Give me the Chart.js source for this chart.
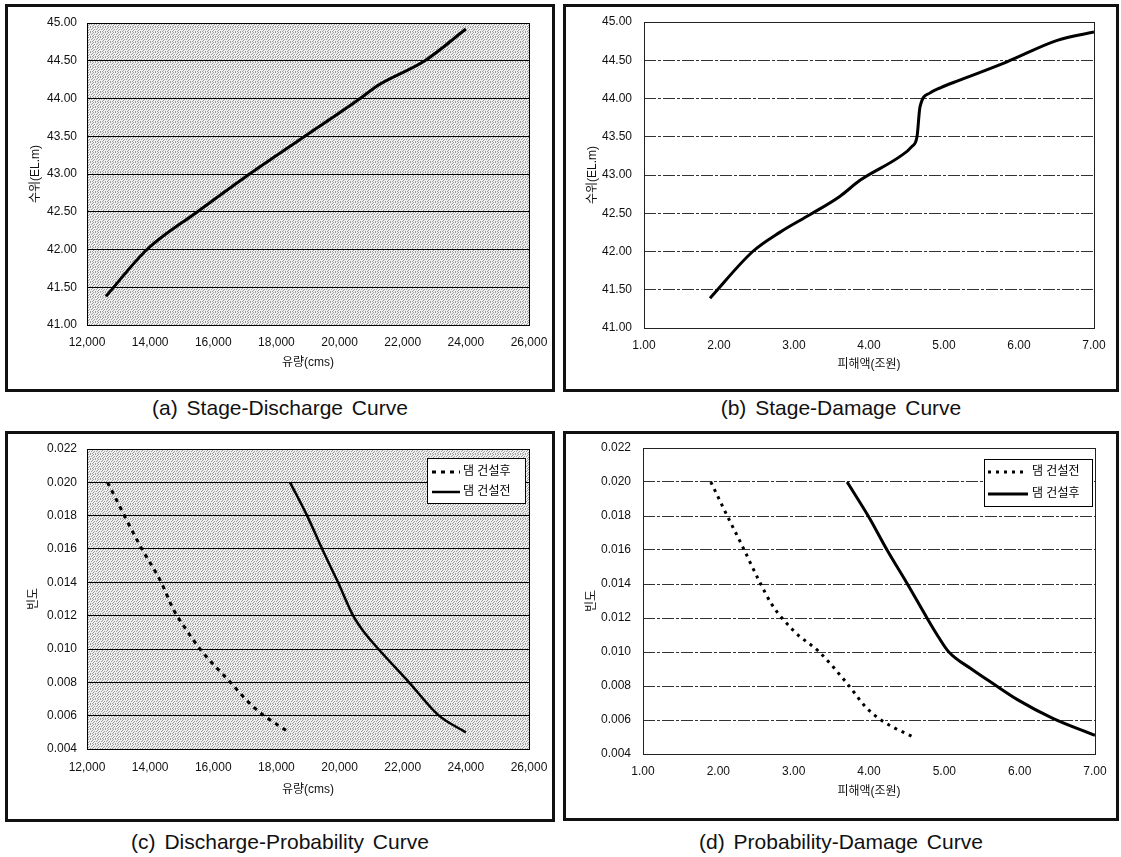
<!DOCTYPE html>
<html lang="ko">
<head>
<meta charset="UTF-8">
<title>Stage-Discharge / Damage Curves</title>
<script src="https://cdn.jsdelivr.net/npm/chart.js"></script>
<style>
    body {
        margin: 0;
        width: 1121px;
        height: 857px;
        position: relative;
        overflow: hidden;
        background: #fff;
        font-family: 'Liberation Sans', 'Noto Sans CJK KR', sans-serif;
    }
    .panel {
        position: absolute;
        border: 3px solid #111;
        box-sizing: border-box;
    }
    canvas {
        position: absolute;
    }
    .caption {
        position: absolute;
        font-size: 21px;
        line-height: 24px;
        text-align: center;
        color: #111;
        word-spacing: 3px;
    }
</style>
</head>
<body>
<div class="panel" style="left:5px;top:4px;width:550px;height:388px"></div>
<div class="panel" style="left:563px;top:4px;width:556px;height:388px"></div>
<div class="panel" style="left:5px;top:431px;width:550px;height:391px"></div>
<div class="panel" style="left:563px;top:431px;width:556px;height:390px"></div>

<canvas id="chartA"></canvas>
<canvas id="chartB"></canvas>
<canvas id="chartC"></canvas>
<canvas id="chartD"></canvas>

<div class="caption" style="left:5px;top:396px;width:550px">(a) Stage-Discharge Curve</div>
<div class="caption" style="left:563px;top:396px;width:556px">(b) Stage-Damage Curve</div>
<div class="caption" style="left:5px;top:830px;width:550px">(c) Discharge-Probability Curve</div>
<div class="caption" style="left:563px;top:830px;width:556px">(d) Probability-Damage Curve</div>

<script>
// ---- data ----
// (a) stage vs discharge
const dischargeA = [12600, 13900, 15500, 17150, 18900, 20650, 21200, 22700, 24000];
const stageA     = [41.38, 42.00, 42.50, 43.00, 43.50, 44.00, 44.17, 44.50, 44.92];

// (b) stage vs damage (조원)
const damageB = [1.88, 2.45, 2.81, 3.21, 3.61, 3.88, 4.41, 4.57, 4.64, 4.68, 4.81, 4.95, 5.21, 5.84, 6.51, 7.00];
const stageB  = [41.39, 42.00, 42.25, 42.48, 42.72, 42.93, 43.24, 43.37, 43.50, 43.89, 44.07, 44.14, 44.24, 44.48, 44.76, 44.87];

// (c) discharge vs probability
const dischargeAfterC = [12650, 13680, 14350, 14730, 15200, 15580, 16540, 17230, 17610, 18400];
const probAfterC      = [0.0200, 0.0162, 0.0140, 0.0124, 0.0110, 0.0100, 0.0080, 0.0066, 0.0060, 0.0050];
const dischargeBeforeC = [18430, 18970, 19450, 19950, 20430, 20780, 21230, 22200, 23150, 24000];
const probBeforeC      = [0.0200, 0.0180, 0.0160, 0.0140, 0.0120, 0.0110, 0.0100, 0.0080, 0.0060, 0.0050];

// (d) damage vs probability
const damageBeforeD = [1.90, 2.13, 2.30, 2.54, 2.71, 3.01, 3.34, 3.70, 3.97, 4.16, 4.31, 4.59];
const probBeforeD   = [0.0200, 0.0179, 0.0164, 0.0142, 0.0128, 0.0112, 0.0100, 0.0082, 0.0067, 0.0060, 0.0056, 0.0050];
const damageAfterD  = [3.71, 3.99, 4.24, 4.51, 4.77, 4.92, 5.06, 5.36, 5.66, 5.97, 6.44, 7.00];
const probAfterD    = [0.0200, 0.0180, 0.0160, 0.0140, 0.0120, 0.0109, 0.0100, 0.0090, 0.0081, 0.0072, 0.0061, 0.0051];

// axis ranges / tick steps
const dischargeTicks = {min: 12000, max: 26000, step: 2000};
const damageTicks    = {min: 1, max: 7, step: 1};
const stageTicks     = {min: 41, max: 45, step: 0.5};
const probTicks      = {min: 0.004, max: 0.022, step: 0.002};

const labelAfter  = '댐 건설후';
const labelBefore = '댐 건설전';

// ---- helpers ----
const FONT = "'Liberation Sans', 'Noto Sans CJK KR', sans-serif";
Chart.defaults.font.family = FONT;
Chart.defaults.font.size = 12;
Chart.defaults.color = '#111';

const toPoints = (xs, ys) => xs.map((x, i) => ({x: x, y: ys[i]}));
const comma = v => String(Math.round(v)).replace(/\B(?=(\d{3})+(?!\d))/g, ',');

// light halftone-like fill for the shaded plots
function stipplePattern(ctx) {
    const c = document.createElement('canvas');
    c.width = c.height = 5;
    const p = c.getContext('2d');
    p.fillStyle = '#efefef';
    p.fillRect(0, 0, 5, 5);
    p.fillStyle = '#9e9e9e';
    [[0, 0], [2, 0], [4, 1], [1, 2], [3, 2], [0, 3], [2, 4], [4, 4]].forEach(d => p.fillRect(d[0], d[1], 1, 1));
    return ctx.createPattern(c, 'repeat');
}

// plot background + frame
const plotFrame = {
    id: 'plotFrame',
    beforeDraw(chart, args, o) {
        const {ctx, chartArea: a} = chart;
        ctx.save();
        ctx.fillStyle = o.stipple ? stipplePattern(ctx) : '#fff';
        ctx.fillRect(a.left, a.top, a.width, a.height);
        ctx.restore();
    },
    afterDatasetsDraw(chart, args, o) {
        const {ctx, chartArea: a} = chart;
        ctx.save();
        ctx.strokeStyle = o.color || '#000';
        ctx.lineWidth = 1;
        ctx.strokeRect(Math.round(a.left) + 0.5, Math.round(a.top) + 0.5,
                       Math.round(a.width), Math.round(a.height));
        ctx.restore();
    }
};

// boxed legend inside the plot area
const boxLegend = {
    id: 'boxLegend',
    afterDraw(chart, args, o) {
        if (!o || !o.w) return;
        const {ctx, chartArea: a} = chart;
        const x = Math.round(a.left + o.dx), y = Math.round(a.top + o.dy);
        ctx.save();
        ctx.fillStyle = '#fff';
        ctx.fillRect(x, y, o.w, o.h);
        ctx.strokeStyle = '#000';
        ctx.lineWidth = 1;
        ctx.strokeRect(x + 0.5, y + 0.5, o.w, o.h);
        ctx.font = '12px ' + FONT;
        ctx.textBaseline = 'middle';
        ctx.fillStyle = '#000';
        chart.data.datasets.forEach((ds, i) => {
            const ry = y + o.row0 + i * o.rowGap;
            ctx.beginPath();
            ctx.setLineDash(ds.borderDash || []);
            ctx.lineWidth = ds.borderWidth;
            ctx.moveTo(x + o.s0, ry);
            ctx.lineTo(x + o.s1, ry);
            ctx.stroke();
            ctx.setLineDash([]);
            ctx.fillText(ds.label, x + o.tx, ry);
        });
        ctx.restore();
    }
};

function drawChart(id, frame, area, marks, xCfg, yCfg, datasets, look) {
    const half = 7.2;   // half line height of 12px text
    const padL = marks.yTitleX - frame.left - half;
    const yW = area.left - frame.left - padL;
    const padT = area.top - frame.top;
    const padR = frame.left + frame.width - area.right;
    const xH = marks.xTitleY + half - area.bottom;
    const padB = frame.top + frame.height - area.bottom - xH;

    const canvas = document.getElementById(id);
    canvas.width = frame.width;
    canvas.height = frame.height;
    canvas.style.left = frame.left + 'px';
    canvas.style.top = frame.top + 'px';
    canvas.style.width = frame.width + 'px';
    canvas.style.height = frame.height + 'px';

    return new Chart(canvas.getContext('2d'), {
        type: 'line',
        data: {datasets: datasets},
        plugins: [plotFrame, boxLegend],
        options: {
            responsive: false,
            animation: false,
            devicePixelRatio: 1,
            layout: {padding: {left: padL, top: padT, right: padR, bottom: padB}},
            elements: {
                point: {radius: 0},
                line: {cubicInterpolationMode: 'monotone', borderCapStyle: 'butt'}
            },
            plugins: {
                legend: {display: false},
                tooltip: {enabled: false},
                plotFrame: {stipple: look.stipple, color: look.frameColor},
                boxLegend: look.legend || {}
            },
            scales: {
                x: {
                    type: 'linear',
                    min: xCfg.ticks.min,
                    max: xCfg.ticks.max,
                    ticks: {
                        stepSize: xCfg.ticks.step,
                        padding: marks.xLabelY - area.bottom - half,
                        maxRotation: 0,
                        autoSkip: false,
                        color: '#111',
                        callback: xCfg.format
                    },
                    grid: {display: false, drawTicks: false},
                    border: {display: false},
                    title: {display: true, text: xCfg.title, padding: 0, color: '#111'},
                    afterFit(s) { s.height = xH; s.paddingLeft = 0; s.paddingRight = 0; }
                },
                y: {
                    type: 'linear',
                    min: yCfg.ticks.min,
                    max: yCfg.ticks.max,
                    ticks: {
                        stepSize: yCfg.ticks.step,
                        padding: area.left - marks.yLabelRight,
                        color: '#111',
                        callback: yCfg.format
                    },
                    grid: {color: look.gridColor, lineWidth: 1, drawTicks: false},
                    border: {display: false, dash: look.gridDash || []},
                    title: {display: true, text: yCfg.title, padding: 0, color: '#111'},
                    afterFit(s) { s.width = yW; s.paddingTop = 0; s.paddingBottom = 0; }
                }
            }
        }
    });
}

const fmt2 = v => v.toFixed(2);
const fmt3 = v => v.toFixed(3);

const shaded = {stipple: true, gridColor: '#000', frameColor: '#000'};
const plain  = {stipple: false, gridColor: '#333', gridDash: [12, 2, 3, 2], frameColor: '#222'};

// (a)
drawChart('chartA',
    {left: 8, top: 7, width: 544, height: 382},
    {left: 87, right: 529, top: 23, bottom: 325},
    {yTitleX: 36, yLabelRight: 77, xLabelY: 343, xTitleY: 363},
    {ticks: dischargeTicks, format: comma, title: '유량(cms)'},
    {ticks: stageTicks, format: fmt2, title: '수위(EL.m)'},
    [{label: '수위', data: toPoints(dischargeA, stageA), borderColor: '#000', borderWidth: 3}],
    shaded);

// (b)
drawChart('chartB',
    {left: 566, top: 7, width: 550, height: 382},
    {left: 644, right: 1094, top: 22, bottom: 328},
    {yTitleX: 593, yLabelRight: 632, xLabelY: 346, xTitleY: 365},
    {ticks: damageTicks, format: fmt2, title: '피해액(조원)'},
    {ticks: stageTicks, format: fmt2, title: '수위(EL.m)'},
    [{label: '수위', data: toPoints(damageB, stageB), borderColor: '#000', borderWidth: 3}],
    plain);

// (c)
drawChart('chartC',
    {left: 8, top: 434, width: 544, height: 385},
    {left: 87, right: 529, top: 449, bottom: 749},
    {yTitleX: 34, yLabelRight: 77, xLabelY: 768, xTitleY: 790},
    {ticks: dischargeTicks, format: comma, title: '유량(cms)'},
    {ticks: probTicks, format: fmt3, title: '빈도'},
    [
        {label: labelAfter, data: toPoints(dischargeAfterC, probAfterC), borderColor: '#000', borderWidth: 3, borderDash: [4, 5]},
        {label: labelBefore, data: toPoints(dischargeBeforeC, probBeforeC), borderColor: '#000', borderWidth: 2.5}
    ],
    Object.assign({}, shaded, {legend: {dx: 340, dy: 9, w: 98, h: 45, row0: 14, rowGap: 20, s0: 5, s1: 33, tx: 36}}));

// (d)
drawChart('chartD',
    {left: 566, top: 434, width: 550, height: 384},
    {left: 643, right: 1095, top: 448, bottom: 754},
    {yTitleX: 592, yLabelRight: 631, xLabelY: 772, xTitleY: 792},
    {ticks: damageTicks, format: fmt2, title: '피해액(조원)'},
    {ticks: probTicks, format: fmt3, title: '빈도'},
    [
        {label: labelBefore, data: toPoints(damageBeforeD, probBeforeD), borderColor: '#000', borderWidth: 3, borderDash: [3, 5]},
        {label: labelAfter, data: toPoints(damageAfterD, probAfterD), borderColor: '#000', borderWidth: 3}
    ],
    Object.assign({}, plain, {legend: {dx: 341, dy: 11, w: 108, h: 47, row0: 13, rowGap: 22, s0: 4, s1: 44, tx: 48}}));
</script>
</body>
</html>
